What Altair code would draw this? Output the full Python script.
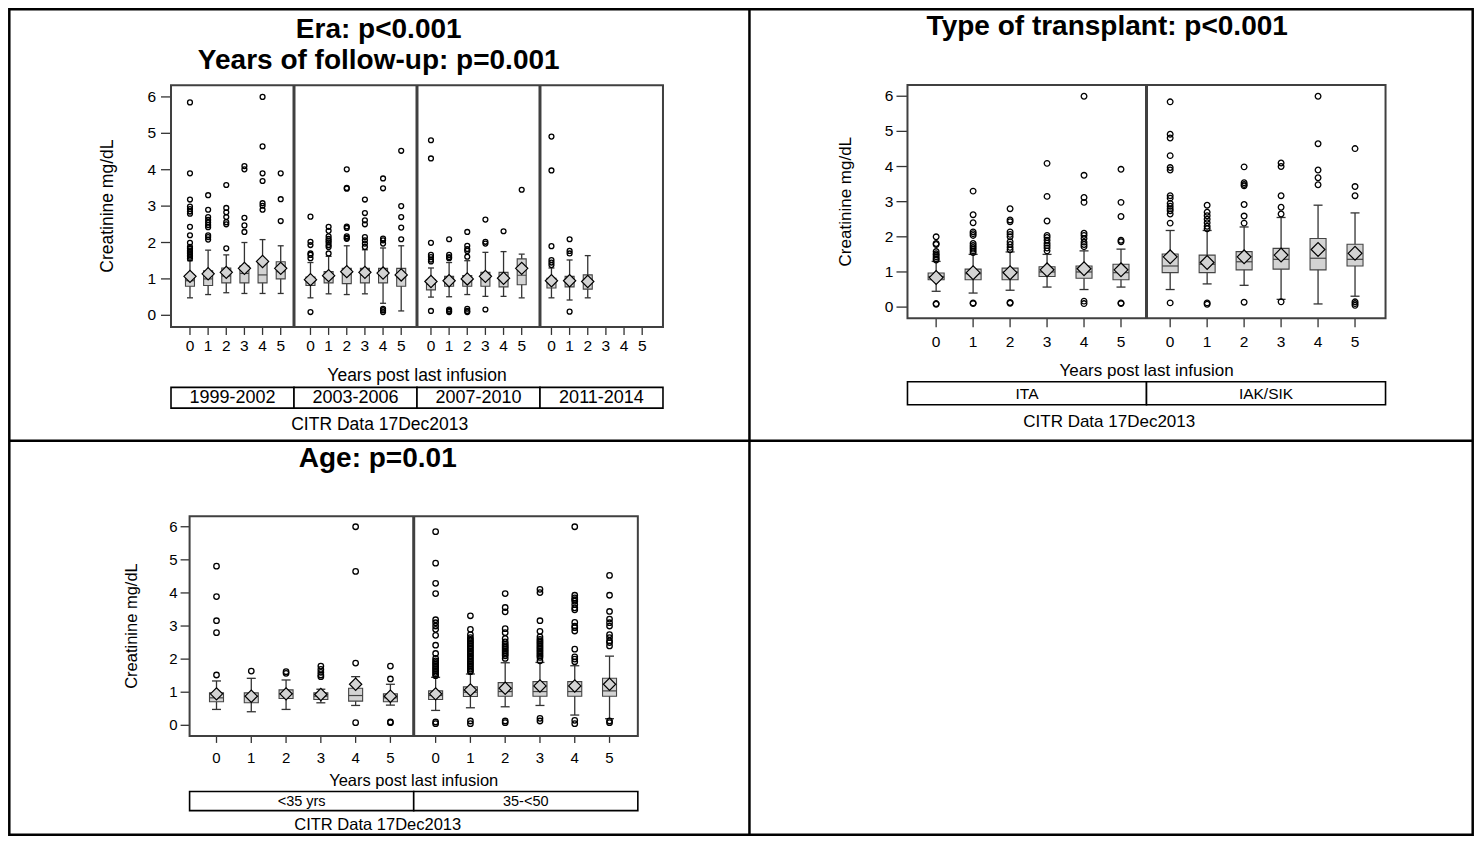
import altair as alt
import pandas as pd

# ------------------------------------------------------------------ data
YEARS = [0, 1, 2, 3, 4, 5]

# Panel 1 : Era
ERA_GROUPS = ["1999-2002", "2003-2006", "2007-2010", "2011-2014"]
ERA_Q1 = [[0.80, 0.82, 0.89, 0.89, 0.89, 1.00],
          [0.82, 0.89, 0.87, 0.89, 0.89, 0.80],
          [0.70, 0.80, 0.80, 0.80, 0.78, 0.84],
          [0.75, 0.78, 0.72]]
ERA_MED = [[0.95, 1.00, 1.08, 1.15, 1.11, 1.20],
           [0.95, 1.05, 1.12, 1.10, 1.10, 1.05],
           [0.85, 0.95, 0.98, 1.00, 1.00, 1.10],
           [0.90, 0.93, 0.95]]
ERA_Q3 = [[1.10, 1.22, 1.30, 1.35, 1.50, 1.47],
          [1.05, 1.20, 1.29, 1.29, 1.29, 1.29],
          [0.98, 1.07, 1.09, 1.18, 1.18, 1.55],
          [1.02, 1.07, 1.11]]
ERA_WLO = [[0.48, 0.57, 0.62, 0.60, 0.60, 0.60],
           [0.48, 0.59, 0.57, 0.59, 0.33, 0.12],
           [0.50, 0.51, 0.57, 0.52, 0.52, 0.48],
           [0.48, 0.42, 0.48]]
ERA_WHI = [[1.50, 1.79, 1.66, 2.00, 2.08, 1.91],
           [1.45, 1.62, 1.91, 1.80, 1.85, 1.91],
           [1.30, 1.45, 1.50, 1.73, 1.75, 1.68],
           [1.30, 1.52, 1.64]]
ERA_MEAN = [[1.07, 1.14, 1.18, 1.29, 1.48, 1.29],
            [0.98, 1.09, 1.20, 1.18, 1.16, 1.11],
            [0.93, 0.95, 1.00, 1.07, 1.02, 1.29],
            [0.95, 0.95, 0.93]]
OUT_1999_2002 = [[5.85, 3.90, 3.18, 2.99, 2.92, 2.85, 2.79, 2.43, 2.20, 1.99, 1.88,
                  1.83, 1.78, 1.74, 1.70, 1.65, 1.61, 1.56],
                 [3.30, 2.90, 2.70, 2.62, 2.55, 2.48, 2.42, 2.20, 2.15, 2.08],
                 [3.58, 2.95, 2.83, 2.70, 2.56, 2.50, 1.84],
                 [4.10, 4.01, 2.68, 2.47, 2.29],
                 [6.00, 4.64, 3.90, 3.69, 3.08, 3.01, 2.90],
                 [3.90, 3.19, 2.59]]
OUT_2003_2006 = [[2.71, 2.02, 1.93, 1.70, 1.66, 1.57, 0.09],
                 [2.43, 2.32, 2.17, 2.10, 2.05, 2.00, 1.93, 1.88, 1.70],
                 [4.01, 3.50, 3.48, 2.44, 2.40, 2.17, 2.13, 2.10],
                 [3.18, 2.81, 2.61, 2.50, 2.15, 2.06, 1.97, 1.88],
                 [3.76, 3.49, 2.11, 2.06, 1.97, 0.18, 0.14, 0.09],
                 [4.52, 3.00, 2.70, 2.41, 2.09]]
OUT_2007_2010 = [[4.81, 4.31, 1.99, 1.66, 1.60, 1.53, 1.48, 0.12],
                 [2.09, 1.66, 1.60, 1.57, 0.16, 0.12, 0.09],
                 [2.29, 1.91, 1.82, 1.77, 1.61, 0.18, 0.12, 0.09],
                 [2.63, 2.02, 1.97, 0.16],
                 [2.31],
                 [3.45]]
OUT_2011_2014 = [[4.91, 3.98, 1.90, 1.52, 1.45, 1.38],
                 [2.09, 1.77, 1.70, 0.10],
                 []]
ERA_OUT = [OUT_1999_2002, OUT_2003_2006, OUT_2007_2010, OUT_2011_2014]

# Panel 2 : Type of transplant
TR_GROUPS = ["ITA", "IAK/SIK"]
TR_Q1 = [[0.78, 0.78, 0.78, 0.87, 0.82, 0.78], [0.98, 0.98, 1.06, 1.08, 1.06, 1.17]]
TR_MED = [[0.87, 0.95, 1.00, 1.00, 1.00, 0.98], [1.17, 1.22, 1.29, 1.36, 1.39, 1.36]]
TR_Q3 = [[0.97, 1.08, 1.11, 1.15, 1.17, 1.22], [1.51, 1.48, 1.58, 1.67, 1.95, 1.79]]
TR_WLO = [[0.45, 0.40, 0.48, 0.57, 0.50, 0.57], [0.50, 0.66, 0.62, 0.22, 0.09, 0.31]]
TR_WHI = [[1.30, 1.50, 1.57, 1.50, 1.60, 1.65], [2.18, 2.18, 2.28, 2.55, 2.90, 2.68]]
TR_MEAN = [[0.84, 0.98, 0.98, 1.06, 1.09, 1.06], [1.43, 1.27, 1.43, 1.48, 1.64, 1.53]]
OUT_ITA = [[2.00, 1.81, 1.78, 1.58, 1.52, 1.48, 1.43, 1.38, 1.34, 0.10, 0.08],
           [3.30, 2.63, 2.40, 2.14, 2.09, 2.04, 1.81, 1.75, 1.70, 1.65, 1.60, 1.55, 0.12, 0.10],
           [2.80, 2.48, 2.43, 2.14, 2.07, 2.00, 1.86, 1.78, 1.70, 1.63, 0.13, 0.11],
           [4.09, 3.15, 2.45, 2.04, 1.98, 1.90, 1.82, 1.75, 1.68, 1.60],
           [6.00, 3.75, 3.12, 2.98, 2.10, 2.04, 1.95, 1.85, 1.78, 1.72, 0.17, 0.10],
           [3.92, 2.98, 2.58, 1.90, 1.86, 0.12, 0.10]]
OUT_IAK_SIK = [[5.84, 4.92, 4.81, 4.31, 3.97, 3.90, 3.17, 3.10, 2.95, 2.87, 2.80, 2.74,
                2.65, 2.39, 0.12],
               [2.90, 2.70, 2.60, 2.50, 2.40, 2.30, 2.23, 0.12, 0.08],
               [3.99, 3.54, 3.49, 3.45, 2.92, 2.59, 2.39, 0.14],
               [4.10, 4.00, 3.17, 2.84, 2.65, 0.15],
               [6.00, 4.65, 3.90, 3.68, 3.48],
               [4.51, 3.43, 3.17, 0.15, 0.10, 0.05]]
TR_OUT = [OUT_ITA, OUT_IAK_SIK]

# Panel 3 : Age
AGE_GROUPS = ["<35 yrs", "35-<50"]
AGE_Q1 = [[0.71, 0.68, 0.81, 0.78, 0.73, 0.71], [0.78, 0.87, 0.88, 0.88, 0.88, 0.88]]
AGE_MED = [[0.83, 0.88, 0.95, 0.88, 0.90, 0.83], [0.90, 1.00, 1.02, 1.02, 1.02, 1.04]]
AGE_Q3 = [[0.98, 0.98, 1.07, 0.98, 1.12, 0.95], [1.04, 1.16, 1.29, 1.32, 1.32, 1.42]]
AGE_WLO = [[0.48, 0.41, 0.48, 0.68, 0.60, 0.61], [0.45, 0.53, 0.56, 0.60, 0.31, 0.20]]
AGE_WHI = [[1.34, 1.42, 1.37, 1.09, 1.47, 1.24], [1.45, 1.55, 1.89, 1.90, 1.80, 2.09]]
AGE_MEAN = [[0.95, 0.88, 0.95, 0.93, 1.24, 0.88], [0.95, 1.07, 1.12, 1.19, 1.19, 1.24]]
OUT_UNDER35 = [[4.81, 3.89, 3.16, 2.80, 1.52],
               [1.64],
               [1.62, 1.57],
               [1.79, 1.69, 1.60, 1.52, 1.47],
               [6.00, 4.65, 1.88, 0.08],
               [1.79, 1.40, 0.10, 0.08]]
OUT_35_50 = [[5.85, 4.90, 4.29, 3.98, 3.19, 3.10, 3.00, 2.90, 2.72, 2.42, 2.17, 2.02, 1.95,
              1.90, 1.85, 1.80, 1.75, 1.70, 1.65, 1.60, 1.55, 1.50, 0.10, 0.05],
             [3.31, 2.90, 2.74, 2.65, 2.60, 2.55, 2.50, 2.45, 2.40, 2.35, 2.30, 2.25, 2.20,
              2.15, 2.10, 2.05, 2.00, 1.95, 1.90, 1.85, 1.80, 1.75, 1.70, 1.65, 1.62, 0.13, 0.05],
             [3.98, 3.56, 3.43, 2.92, 2.80, 2.62, 2.52, 2.45, 2.40, 2.35, 2.30, 2.25, 2.20,
              2.15, 2.10, 2.02, 0.13, 0.08],
             [4.11, 4.01, 3.16, 2.84, 2.67, 2.60, 2.55, 2.50, 2.45, 2.40, 2.35, 2.30, 2.25,
              2.20, 2.15, 2.10, 2.05, 1.95, 0.21, 0.13],
             [6.00, 3.93, 3.85, 3.80, 3.75, 3.65, 3.55, 3.49, 3.11, 3.00, 2.95, 2.85, 2.30,
              2.07, 2.00, 1.92, 0.15, 0.05],
             [4.53, 3.93, 3.44, 3.21, 3.10, 3.00, 2.74, 2.65, 2.55, 2.50, 2.40, 0.13, 0.08]]
AGE_OUT = [OUT_UNDER35, OUT_35_50]

Y_TICKS = [0, 1, 2, 3, 4, 5, 6]
Y_TITLE = "Creatinine mg/dL"
X_TITLE = "Years post last infusion"
FOOT = "CITR  Data 17Dec2013"

# ------------------------------------------------------------------ layout (reference pixels)
FONT = "Liberation Sans"
W, H = 1466, 828
SX = (1465 - 1) / (1478 - 5)
SY = (827 - 1) / (842 - 6)


def PX(r):
    return 1 + (r - 5) * SX


def PY(r):
    return 1 + (r - 6) * SY


INK = "#333333"
EDGE = "#444444"
BOX = "#d3d3d3"
FRAME = "#404040"
ONE = pd.DataFrame({"k": [0]})


def summary_frame(groups, q1, med, q3, wlo, whi, mean):
    rows = []
    for gi, g in enumerate(groups):
        for k in range(len(q1[gi])):
            rows.append(dict(group=g, gi=gi, year=YEARS[k], q1=q1[gi][k], med=med[gi][k],
                             q3=q3[gi][k], wlo=wlo[gi][k], whi=whi[gi][k], mean=mean[gi][k]))
    return pd.DataFrame(rows)


def outlier_frame(groups, outs):
    rows = []
    for gi, g in enumerate(groups):
        for k, vals in enumerate(outs[gi]):
            for v in vals:
                rows.append(dict(group=g, gi=gi, year=YEARS[k], value=v))
    return pd.DataFrame(rows)


def text_layer(s, xr, yr, size, weight="normal", baseline="middle", angle=0):
    return alt.Chart(ONE).mark_text(
        font=FONT, fontSize=size, fontWeight=weight, align="center",
        baseline=baseline, color="black", angle=angle
    ).encode(x=alt.value(PX(xr)), y=alt.value(PY(yr)), text=alt.value(s))


def panel(groups, q1, med, q3, wlo, whi, mean, outs, g):
    summ = summary_frame(groups, q1, med, q3, wlo, whi, mean)
    outl = outlier_frame(groups, outs)
    n = len(groups)
    span, d0 = g["span"], g["d0"]
    x0, x1 = PX(g["xr"][0]), PX(g["xr"][1])
    yb, yt = PY(g["yr"][0]), PY(g["yr"][1])
    xs = alt.Scale(domain=[-d0, n * span - d0], range=[x0, x1], nice=False, zero=False)
    ys = alt.Scale(domain=[-0.32, 6.32], range=[yb, yt], nice=False, zero=False)
    calc = f"datum.gi * {span} + datum.year"
    base = alt.Chart(summ).transform_calculate(xp=calc)

    def XX():
        return alt.X("xp:Q", scale=xs, axis=None)

    def YY(f):
        return alt.Y(f, scale=ys, axis=None)

    whisk = base.mark_rule(color=INK, strokeWidth=1.3).encode(
        x=XX(), y=YY("wlo:Q"), y2="whi:Q")
    caplo = base.mark_tick(orient="horizontal", size=g["cap"], thickness=1.3,
                           color=INK, opacity=1).encode(x=XX(), y=YY("wlo:Q"))
    caphi = base.mark_tick(orient="horizontal", size=g["cap"], thickness=1.3,
                           color=INK, opacity=1).encode(x=XX(), y=YY("whi:Q"))
    box = base.mark_bar(size=g["box"], fill=BOX, stroke=EDGE, strokeWidth=1.1,
                        opacity=1).encode(x=XX(), y=YY("q1:Q"), y2="q3:Q")
    medt = base.mark_tick(orient="horizontal", size=g["box"], thickness=1.2,
                          color=EDGE, opacity=1).encode(x=XX(), y=YY("med:Q"))
    meanp = base.mark_point(shape="diamond", size=g["dia"], filled=True, fill=BOX,
                            stroke="black", strokeWidth=1.2, opacity=1).encode(
        x=XX(), y=YY("mean:Q"))
    outp = alt.Chart(outl).transform_calculate(xp=calc).mark_point(
        shape="circle", size=g["circ"], filled=False, stroke="black",
        strokeWidth=1.3, opacity=1).encode(x=XX(), y=YY("value:Q"))

    # x ticks / labels through the x scale
    tdf = pd.DataFrame([dict(gi=gi, year=y, label=str(y)) for gi in range(n) for y in YEARS])
    tbase = alt.Chart(tdf).transform_calculate(xp=calc)
    xtick = tbase.mark_rule(color=INK, strokeWidth=1.3).encode(
        x=XX(), y=alt.value(yb), y2=alt.value(yb + g["xtick"]))
    xlab = tbase.mark_text(font=FONT, fontSize=g["lab"], color="black", baseline="middle",
                           align="center").encode(
        x=XX(), y=alt.value(PY(g["xlab_y"])), text="label:N")
    # y ticks / labels through the y scale
    ydf = pd.DataFrame({"v": Y_TICKS, "label": [str(v) for v in Y_TICKS]})
    ytick = alt.Chart(ydf).mark_rule(color=INK, strokeWidth=1.3).encode(
        y=YY("v:Q"), x=alt.value(x0 - g["ytick"]), x2=alt.value(x0))
    ylab = alt.Chart(ydf).mark_text(font=FONT, fontSize=g["lab"], color="black",
                                    baseline="middle", align="right").encode(
        y=YY("v:Q"), x=alt.value(x0 - g["ytick"] - g["ypad"]), text="label:N")

    data_layer = alt.layer(whisk, caplo, caphi, box, medt, meanp, outp,
                           xtick, xlab, ytick, ylab)

    # frames of the sub-panels
    deco = []
    step = (x1 - x0) / n
    deco.append(alt.Chart(ONE).mark_rect(fillOpacity=0, stroke=FRAME, strokeWidth=2).encode(
        x=alt.value(x0), x2=alt.value(x1), y=alt.value(yt), y2=alt.value(yb)))
    for gi in range(1, n):
        deco.append(alt.Chart(ONE).mark_rule(color=FRAME, strokeWidth=3).encode(
            x=alt.value(x0 + gi * step), y=alt.value(yt), y2=alt.value(yb)))

    # strip of group labels
    sdf = pd.DataFrame({"group": groups})
    ss = alt.Scale(domain=groups, range=[x0, x1], paddingInner=0, paddingOuter=0)
    st, sb = PY(g["strip"][0]), PY(g["strip"][1])
    strip_rect = alt.Chart(sdf).mark_rect(fill="white", stroke="black", strokeWidth=1.6).encode(
        x=alt.X("group:N", scale=ss, axis=None), y=alt.value(st), y2=alt.value(sb))
    strip_text = alt.Chart(sdf).mark_text(font=FONT, fontSize=g["sfs"], color="black",
                                          baseline="middle").encode(
        x=alt.X("group:N", scale=ss, axis=None), y=alt.value((st + sb) / 2 + 0.5),
        text="group:N")
    strip = alt.layer(strip_rect, strip_text)

    texts = [text_layer(X_TITLE, (g["xr"][0] + g["xr"][1]) / 2, g["xt_y"], g["tfs"]),
             text_layer(FOOT, g["foot"][0], g["foot"][1], g["tfs"]),
             text_layer(Y_TITLE, g["ytx"], (g["yr"][0] + g["yr"][1]) / 2, g["tfs"],
                        angle=270)]
    return [data_layer] + deco + [strip] + texts


P1 = dict(span=6.64, d0=0.77, xr=(168, 663), yr=(327.8, 83.2), box=9, cap=6, dia=150,
          circ=24, lab=15.5, xtick=8, xlab_y=347.5, ytick=10, ypad=5, ytx=105, tfs=17.5,
          strip=(389, 410), sfs=18, xt_y=377.5, foot=(378, 427.5))
P2 = dict(span=6.33, d0=0.64, xr=(909, 1390), yr=(319.1, 82.9), box=16, cap=9, dia=190,
          circ=32, lab=15.5, xtick=9, xlab_y=343.3, ytick=11, ypad=3, ytx=847, tfs=17,
          strip=(383.3, 406.6), sfs=15.5, xt_y=372.6, foot=(1112, 424))
P3 = dict(span=6.3, d0=0.63, xr=(186.7, 637.7), yr=(741.7, 519.3), box=14, cap=9, dia=150,
          circ=30, lab=15, xtick=7, xlab_y=764.2, ytick=9, ypad=3, ytx=128.3, tfs=16.5,
          strip=(798, 817.3), sfs=14.5, xt_y=787.5, foot=(376, 832))

layers = []
# table grid
layers.append(alt.Chart(ONE).mark_rect(fillOpacity=0, stroke="black", strokeWidth=2.5).encode(
    x=alt.value(PX(5) + 0.3), x2=alt.value(PX(1478) - 0.3),
    y=alt.value(PY(6) + 0.3), y2=alt.value(PY(842) - 0.3)))
layers.append(alt.Chart(ONE).mark_rule(color="black", strokeWidth=2.5).encode(
    x=alt.value(PX(750)), y=alt.value(PY(6)), y2=alt.value(PY(842))))
layers.append(alt.Chart(ONE).mark_rule(color="black", strokeWidth=2.5).encode(
    x=alt.value(PX(5)), x2=alt.value(PX(1478)), y=alt.value(PY(443))))

layers += panel(ERA_GROUPS, ERA_Q1, ERA_MED, ERA_Q3, ERA_WLO, ERA_WHI, ERA_MEAN, ERA_OUT, P1)
layers += panel(TR_GROUPS, TR_Q1, TR_MED, TR_Q3, TR_WLO, TR_WHI, TR_MEAN, TR_OUT, P2)
layers += panel(AGE_GROUPS, AGE_Q1, AGE_MED, AGE_Q3, AGE_WLO, AGE_WHI, AGE_MEAN, AGE_OUT, P3)

# panel titles
layers.append(text_layer("Era: p<0.001", 377, 35, 28, "bold", "alphabetic"))
layers.append(text_layer("Years of follow-up: p=0.001", 377, 66.7, 28, "bold", "alphabetic"))
layers.append(text_layer("Type of transplant: p<0.001", 1110, 32.3, 28, "bold", "alphabetic"))
layers.append(text_layer("Age: p=0.01", 376, 470, 28, "bold", "alphabetic"))

chart = alt.layer(*layers).resolve_scale(
    x="independent", y="independent"
).properties(
    width=W, height=H, padding=0, autosize=alt.AutoSizeParams(type="none")
).configure_view(strokeWidth=0)

chart.save("out.html", embed_options={"renderer": "svg", "actions": False})
